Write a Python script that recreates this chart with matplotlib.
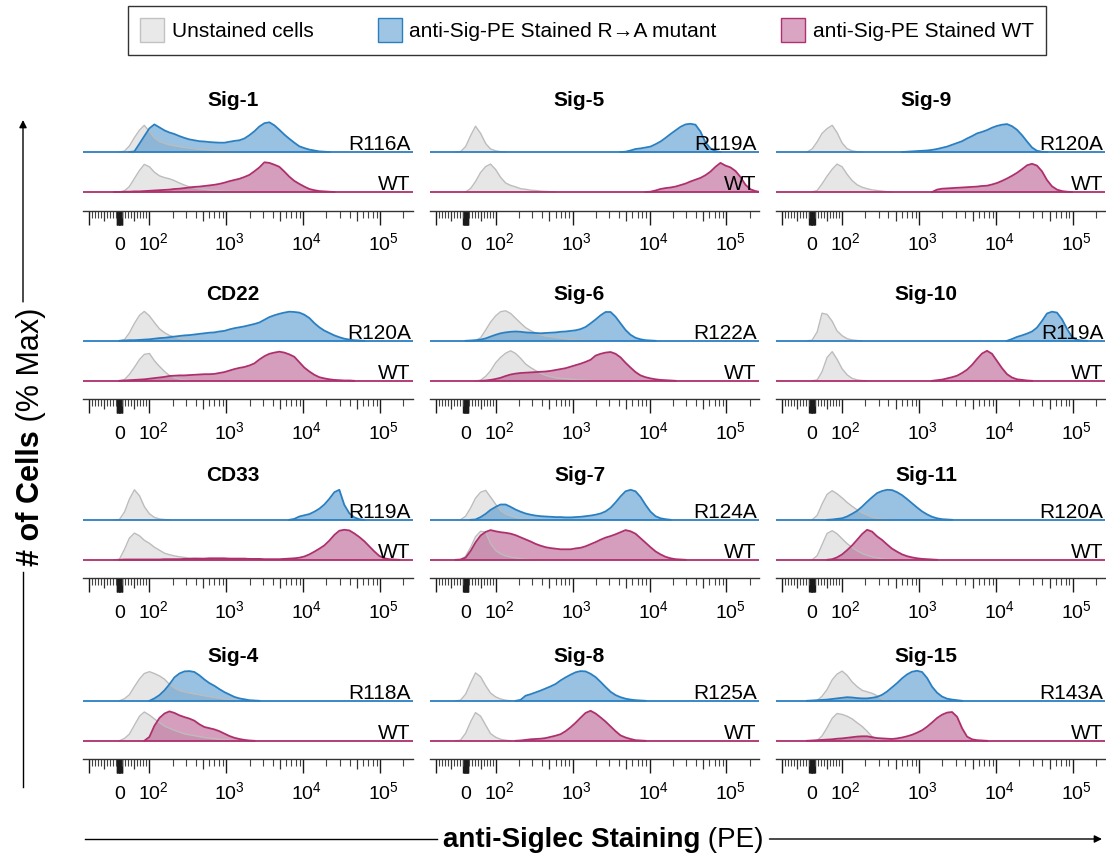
import matplotlib
matplotlib.use('Agg')
import matplotlib.pyplot as plt
from matplotlib.patches import Patch, FancyArrowPatch
from matplotlib.lines import Line2D
from matplotlib.ticker import NullLocator
from matplotlib.transforms import blended_transform_factory, ScaledTranslation

plt.rcParams['font.family'] = ['Liberation Sans', 'DejaVu Sans']
plt.rcParams['mathtext.fontset'] = 'custom'
plt.rcParams['mathtext.rm'] = 'Liberation Sans'
plt.rcParams['mathtext.it'] = 'Liberation Sans:italic'
plt.rcParams['mathtext.bf'] = 'Liberation Sans:bold'

# ---------------- data ----------------
# histogram channels (PE fluorescence values, biexponential display)
channel_values = [-67, -50, -33, -17, 0, 17, 33, 50, 67, 83, 100, 116, 135, 157, 182, 211,
                  245, 285, 331, 384, 446, 518, 602, 699, 811, 942, 1094, 1271, 1476, 1714,
                  1991, 2312, 2685, 3119, 3620, 4200, 4880, 5670, 6580, 7640, 8870, 10300,
                  11970, 13900, 16140, 18750, 21770, 25290, 29370, 34040, 39540, 45920, 53330,
                  61940, 71930, 83540, 97010, 112660, 130860, 151990, 176500, 205000, 238100,
                  262144]

panel_names = ['Sig-1', 'Sig-5', 'Sig-9', 'CD22', 'Sig-6', 'Sig-10',
               'CD33', 'Sig-7', 'Sig-11', 'Sig-4', 'Sig-8', 'Sig-15']
mutant_labels = ['R116A', 'R119A', 'R120A', 'R120A', 'R122A', 'R119A',
                 'R119A', 'R124A', 'R120A', 'R118A', 'R125A', 'R143A']
wt_label = 'WT'

major_ticks = [-100, -9, -7, -5, -3, -1, 0, 1, 3, 5, 7, 9, 100, 1000, 10000, 100000]
major_labels = ['', '', '', '', '', '', '0', '', '', '', '', '',
                r'$10^2$', r'$10^3$', r'$10^4$', r'$10^5$']
mid_ticks = [-50, 50, 500, 5000, 50000]
minor_ticks = [-90, -80, -70, -60, -40, -30, -20, -10,
               10, 20, 30, 40, 60, 70, 80, 90,
               200, 300, 400, 600, 700, 800, 900,
               2000, 3000, 4000, 6000, 7000, 8000, 9000,
               20000, 30000, 40000, 60000, 70000, 80000, 90000, 200000]

legend_labels = ['Unstained cells', 'anti-Sig-PE Stained R\u2192A mutant', 'anti-Sig-PE Stained WT']
x_label_bold = 'anti-Siglec Staining'
x_label_rest = ' (PE)'
y_label_bold = '# of Cells'
y_label_rest = ' (% Max)'

# each histogram: (first channel value, % of max on consecutive channels)
sig1_mut_unst = (0, [0, 3, 20, 48, 73, 89, 68, 47, 35, 29, 24, 21, 18, 15, 13, 11, 9, 8, 7, 6, 5, 4, 3, 2, 1, 0])
sig1_mut = (33, [0, 2, 28, 53, 79, 92, 82, 72, 65, 60, 53, 47, 42, 39, 36, 35, 33, 32, 31, 31, 34, 37, 39, 45, 56,
                 69, 85, 96, 99, 89, 74, 58, 44, 31, 19, 13, 8, 5, 2, 1, 0])
sig1_wt_unst = (0, [0, 4, 18, 45, 72, 92, 84, 66, 54, 48, 44, 38, 30, 23, 17, 14, 11, 9, 7, 6, 5, 4, 3, 2, 2, 1, 0])
sig1_wt = (-17, [0, 0, 1, 1, 2, 2, 3, 4, 5, 6, 7, 8, 10, 11, 13, 15, 17, 18, 20, 22, 24, 27, 31, 36, 40, 44, 50,
                 57, 69, 82, 99, 97, 91, 84, 68, 51, 37, 27, 18, 10, 6, 3, 2, 1, 0])

sig5_mut_unst = (-33, [0, 1, 18, 55, 86, 62, 28, 10, 4, 1, 0])
sig5_mut = (4200, [0, 1, 5, 10, 12, 15, 18, 26, 35, 47, 60, 72, 84, 92, 94, 91, 68, 32, 12, 3, 0])
sig5_wt_unst = (0, [0, 12, 35, 65, 85, 93, 75, 49, 30, 22, 17, 11, 9, 6, 5, 3, 2, 1, 0])
sig5_wt = (8870, [0, 1, 5, 10, 13, 15, 18, 23, 28, 35, 41, 47, 56, 68, 84, 97, 88, 82, 70, 50, 24, 9, 3, 1])

sig9_mut_unst = (-17, [0, 10, 34, 62, 78, 89, 65, 30, 11, 4, 1, 0])
sig9_mut = (602, [0, 1, 2, 3, 4, 5, 7, 10, 14, 18, 24, 30, 36, 45, 53, 62, 67, 73, 81, 87, 91, 93, 86, 74, 56,
                  35, 15, 4, 1, 0])
sig9_wt_unst = (0, [0, 5, 27, 53, 76, 93, 84, 59, 38, 24, 16, 11, 7, 5, 3, 1, 0])
sig9_wt = (1476, [0, 8, 11, 12, 13, 14, 15, 16, 17, 18, 20, 21, 25, 30, 37, 45, 54, 64, 76, 89, 94, 88, 69, 40,
                  19, 8, 3, 1, 0])

cd22_mut_unst = (0, [0, 4, 26, 58, 85, 98, 83, 61, 40, 27, 18, 13, 8, 5, 3, 2, 1, 0])
cd22_mut = (0, [0, 1, 2, 2, 3, 4, 5, 7, 9, 10, 12, 14, 16, 18, 19, 21, 23, 25, 27, 28, 31, 33, 38, 42, 45,
                48, 52, 56, 61, 70, 79, 85, 90, 94, 97, 96, 94, 87, 76, 59, 45, 34, 26, 18, 12, 7, 4, 2, 1, 0])
cd22_wt_unst = (0, [0, 4, 21, 45, 71, 88, 91, 67, 48, 31, 18, 10, 6, 3, 1, 0])
cd22_wt = (0, [0, 1, 2, 3, 4, 5, 7, 9, 11, 13, 16, 17, 18, 18, 19, 20, 21, 22, 22, 23, 26, 29, 34, 39, 43,
               46, 51, 58, 71, 82, 90, 94, 97, 94, 88, 80, 62, 44, 31, 20, 12, 8, 5, 3, 2, 1, 1, 0])

sig6_mut_unst = (17, [0, 1, 10, 36, 62, 83, 97, 100, 91, 75, 59, 44, 34, 26, 20, 16, 14, 11, 9, 7, 5, 4, 3, 2,
                      1, 1, 0])
sig6_mut = (0, [0, 1, 2, 4, 8, 14, 20, 25, 28, 30, 31, 30, 28, 27, 26, 25, 26, 27, 28, 30, 31, 33, 35, 39, 46,
                58, 71, 85, 96, 96, 80, 58, 36, 20, 10, 5, 2, 1, 0])
sig6_wt_unst = (33, [0, 2, 15, 33, 60, 78, 92, 100, 91, 75, 56, 44, 34, 25, 18, 14, 10, 8, 7, 5, 4, 3, 2, 1, 0])
sig6_wt = (50, [0, 1, 3, 6, 10, 16, 21, 24, 26, 27, 28, 29, 30, 31, 33, 36, 39, 42, 47, 52, 57, 63, 70, 84, 90,
                94, 96, 90, 78, 60, 44, 29, 18, 12, 8, 5, 3, 2, 1, 0])

sig10_mut_unst = (-17, [0, 2, 30, 92, 88, 65, 33, 17, 7, 3, 1, 0])
sig10_mut = (13900, [0, 6, 13, 18, 24, 31, 44, 66, 91, 97, 94, 72, 40, 13, 3, 1, 0])
sig10_wt_unst = (0, [0, 3, 30, 78, 97, 72, 40, 20, 8, 3, 1, 0])
sig10_wt = (1476, [0, 2, 4, 8, 12, 17, 26, 37, 53, 73, 91, 100, 90, 66, 42, 22, 11, 5, 3, 1, 0])

cd33_mut_unst = (-17, [0, 1, 26, 68, 100, 80, 44, 20, 8, 3, 1, 0])
cd33_mut = (6580, [0, 3, 11, 15, 19, 27, 37, 51, 70, 92, 100, 50, 22, 8, 2, 0])
cd33_wt_unst = (-17, [0, 2, 35, 72, 89, 80, 65, 55, 42, 32, 22, 17, 13, 10, 8, 6, 5, 4, 3, 3, 2, 2, 1, 1, 1, 0])
cd33_wt = (0, [0, 1, 1, 1, 1, 1, 1, 1, 1, 2, 2, 2, 2, 3, 3, 4, 4, 4, 5, 5, 5, 5, 4, 4, 4, 4, 3, 3, 3, 2,
               2, 2, 2, 3, 4, 5, 7, 11, 18, 27, 37, 48, 64, 83, 97, 100, 98, 88, 76, 62, 45, 28, 13, 5, 2, 1, 0])

sig7_mut_unst = (-17, [0, 12, 40, 72, 92, 98, 76, 52, 31, 19, 13, 8, 5, 3, 2, 1, 0])
sig7_mut = (17, [0, 1, 9, 20, 33, 43, 51, 51, 43, 34, 27, 21, 17, 14, 12, 11, 10, 9, 9, 8, 8, 9, 10, 12, 14,
                 17, 21, 28, 40, 58, 78, 95, 100, 95, 76, 50, 27, 12, 5, 2, 0])
sig7_wt_unst = (-17, [0, 12, 42, 77, 95, 92, 54, 31, 20, 13, 9, 6, 4, 2, 1, 0])
sig7_wt = (-33, [0, 1, 7, 30, 58, 81, 93, 99, 95, 92, 90, 87, 82, 75, 68, 61, 53, 47, 42, 39, 37, 35, 35, 35,
                 38, 40, 45, 52, 59, 67, 74, 79, 85, 92, 99, 95, 87, 72, 57, 42, 28, 18, 10, 5, 2, 1, 0])

sig11_mut_unst = (0, [0, 15, 52, 85, 97, 87, 73, 58, 45, 33, 23, 16, 9, 5, 3, 1, 0])
sig11_mut = (50, [0, 1, 3, 5, 11, 20, 30, 44, 60, 75, 89, 96, 100, 99, 92, 82, 69, 55, 41, 28, 18, 10, 5, 2,
                  1, 0])
sig11_wt_unst = (0, [0, 14, 50, 88, 97, 87, 70, 54, 41, 30, 21, 15, 10, 6, 4, 2, 1, 0])
sig11_wt = (50, [0, 2, 8, 18, 32, 48, 67, 86, 100, 94, 78, 66, 51, 37, 27, 18, 12, 8, 5, 3, 2, 1, 0])

sig4_mut_unst = (0, [0, 7, 20, 47, 73, 91, 97, 91, 83, 72, 55, 43, 34, 30, 26, 23, 20, 17, 14, 11, 9, 6, 4, 3,
                     2, 1, 0])
sig4_mut = (100, [0, 8, 19, 35, 55, 78, 91, 98, 99, 96, 85, 71, 59, 50, 39, 29, 21, 13, 8, 5, 2, 1, 0])
sig4_wt_unst = (0, [0, 8, 22, 52, 82, 96, 86, 73, 61, 49, 42, 35, 29, 23, 20, 17, 14, 11, 9, 7, 5, 4, 2, 1, 0])
sig4_wt = (83, [0, 13, 50, 76, 91, 98, 93, 85, 79, 74, 67, 55, 46, 42, 38, 32, 24, 16, 10, 6, 3, 1, 0])

sig8_mut_unst = (-33, [0, 2, 22, 60, 93, 80, 50, 26, 13, 6, 2, 0])
sig8_mut = (182, [0, 3, 17, 22, 28, 34, 41, 48, 56, 68, 78, 87, 95, 99, 98, 90, 79, 63, 46, 30, 19, 12, 7, 4,
                  2, 1, 0])
sig8_wt_unst = (-33, [0, 2, 25, 64, 94, 82, 52, 24, 12, 5, 2, 0])
sig8_wt = (182, [0, 1, 3, 5, 6, 7, 9, 13, 17, 22, 32, 45, 60, 77, 93, 100, 91, 78, 64, 48, 32, 18, 11, 6, 2,
                 1, 0])

sig15_mut_unst = (0, [0, 1, 15, 38, 70, 89, 99, 85, 63, 47, 35, 30, 25, 17, 6, 1, 0])
sig15_mut = (-17, [0, 1, 2, 3, 4, 6, 8, 10, 12, 11, 9, 8, 8, 10, 13, 20, 31, 45, 59, 75, 88, 97, 100, 96, 76,
                   47, 27, 14, 7, 4, 2, 0])
sig15_wt_unst = (0, [0, 1, 16, 44, 75, 91, 88, 82, 73, 60, 48, 32, 14, 4, 1, 0])
sig15_wt = (-17, [0, 1, 2, 3, 4, 5, 7, 8, 10, 12, 14, 15, 15, 12, 9, 8, 7, 6, 8, 11, 15, 20, 27, 35, 47, 61,
                  76, 87, 94, 96, 80, 42, 14, 5, 2, 1, 0])

panel_curves = [
    (sig1_mut_unst, sig1_mut, sig1_wt_unst, sig1_wt),
    (sig5_mut_unst, sig5_mut, sig5_wt_unst, sig5_wt),
    (sig9_mut_unst, sig9_mut, sig9_wt_unst, sig9_wt),
    (cd22_mut_unst, cd22_mut, cd22_wt_unst, cd22_wt),
    (sig6_mut_unst, sig6_mut, sig6_wt_unst, sig6_wt),
    (sig10_mut_unst, sig10_mut, sig10_wt_unst, sig10_wt),
    (cd33_mut_unst, cd33_mut, cd33_wt_unst, cd33_wt),
    (sig7_mut_unst, sig7_mut, sig7_wt_unst, sig7_wt),
    (sig11_mut_unst, sig11_mut, sig11_wt_unst, sig11_wt),
    (sig4_mut_unst, sig4_mut, sig4_wt_unst, sig4_wt),
    (sig8_mut_unst, sig8_mut, sig8_wt_unst, sig8_wt),
    (sig15_mut_unst, sig15_mut, sig15_wt_unst, sig15_wt),
]


def expand(curve):
    start, heights = curve
    i = channel_values.index(start)
    return channel_values[i:i + len(heights)], heights


# ---------------- style / layout ----------------
GRAY_FILL = '#e6e6e6'
GRAY_EDGE = '#bcbcbc'
BLUE_FILL = '#3a89c9'
BLUE_EDGE = '#2a7fc1'
MAG_FILL = '#b0457f'
MAG_EDGE = '#ad2f6c'
FILL_ALPHA = 0.52

W, H = 1106, 856
fig = plt.figure(figsize=(W / 100, H / 100), dpi=100)


def fx(px):
    return px / W


def fy(py):
    return 1 - py / H


col_left = [83.3, 429.5, 776.0]
panel_w = 329.2
row_axis_y = [210.5, 399.3, 578.3, 759.3]
title_y = [100, 294, 475, 656]
px_per_unit = 0.3
wt_above_axis = 18.5
row_gap = 40.0
top_above_wt = 75.0
y_bottom = -wt_above_axis / px_per_unit
y_top = top_above_wt / px_per_unit
mut_offset = row_gap / px_per_unit
axes_h = wt_above_axis + top_above_wt
XMIN, XMAX = -120, 262144
LINTHRESH, LINSCALE = 100, 0.351


def setup_x(a):
    a.set_xscale('symlog', linthresh=LINTHRESH, linscale=LINSCALE)
    a.set_xlim(XMIN, XMAX)
    a.set_ylim(y_bottom, y_top)
    a.set_yticks([])
    for s in ('top', 'left', 'right'):
        a.spines[s].set_visible(False)
    a.patch.set_alpha(0)


label_shift = ScaledTranslation(3.5 / 100, 0, fig.dpi_scale_trans)

for k, name in enumerate(panel_names):
    r, c = divmod(k, 3)
    L = col_left[c]
    rect = [fx(L), fy(row_axis_y[r]), panel_w / W, axes_h / H]

    # medium tick marks (own axis layer)
    axm = fig.add_axes(rect)
    setup_x(axm)
    axm.spines['bottom'].set_visible(False)
    axm.set_xticks(mid_ticks, [''] * len(mid_ticks))
    axm.xaxis.set_minor_locator(NullLocator())
    axm.tick_params(axis='x', which='major', length=7.3, width=0.9, color='#333333')

    ax = fig.add_axes(rect)
    setup_x(ax)
    ax.spines['bottom'].set_color('#333333')
    ax.spines['bottom'].set_linewidth(1.0)
    ax.set_xticks(major_ticks, major_labels)
    ax.set_xticks(minor_ticks, minor=True)
    ax.tick_params(axis='x', which='major', length=10, width=1.0, color='#1a1a1a',
                   pad=18.5, labelsize=14)
    ax.tick_params(axis='x', which='minor', length=4.9, width=0.8, color='#444444')
    for lbl in ax.get_xticklabels():
        lbl.set_verticalalignment('baseline')
        if lbl.get_text().startswith('$10'):
            lbl.set_transform(lbl.get_transform() + label_shift)

    mu, m, wu, w = panel_curves[k]
    for unst, stained, base, fcol, ecol in [(mu, m, mut_offset, BLUE_FILL, BLUE_EDGE),
                                            (wu, w, 0.0, MAG_FILL, MAG_EDGE)]:
        xu, hu = expand(unst)
        xs, hs = expand(stained)
        yu = [base + h for h in hu]
        ys = [base + h for h in hs]
        ax.fill_between(xu, base, yu, color=GRAY_FILL, lw=0, zorder=1)
        ax.fill_between(xs, base, ys, color=fcol, alpha=FILL_ALPHA, lw=0, zorder=2)
        ax.plot(xu, yu, color=GRAY_EDGE, lw=1.0, zorder=3)
        ax.axhline(base, color=ecol, lw=1.3, zorder=4)
        ax.plot(xs, ys, color=ecol, lw=1.3, zorder=4)

    tr = blended_transform_factory(ax.transAxes, ax.transData)
    xr = 1 - 1.8 / panel_w
    ax.text(xr, mut_offset + 5, mutant_labels[k], transform=tr, ha='right', va='baseline',
            fontsize=15, zorder=6)
    ax.text(xr, 5, wt_label, transform=tr, ha='right', va='baseline', fontsize=15, zorder=6)

    fig.text(fx(L + 150), fy(title_y[r]), name, ha='center', va='center',
             fontsize=15, fontweight='bold')

# ---------------- legend ----------------
handles = [Patch(facecolor='#e9e9e9', edgecolor='#c2c2c2', label=legend_labels[0]),
           Patch(facecolor='#9fc5e5', edgecolor='#2a7fc1', label=legend_labels[1]),
           Patch(facecolor='#d9a5c2', edgecolor='#b0306f', label=legend_labels[2])]
leg = fig.legend(handles=handles, loc='upper center', bbox_to_anchor=(fx(587), fy(5.5)), ncol=3,
                 frameon=True, fancybox=False, edgecolor='black', fontsize=15,
                 handlelength=1.15, handleheight=1.35, handletextpad=0.35, columnspacing=3.1,
                 borderpad=0.62, borderaxespad=0)
leg.get_frame().set_linewidth(1.0)

# ---------------- axis titles with arrows ----------------
renderer = fig.canvas.get_renderer()
XFS = 20
YFS = 22

# x label
xl_center, xl_base = 603, 847
t1 = fig.text(0, fy(xl_base), x_label_bold, fontsize=XFS, fontweight='bold', va='baseline', ha='left')
t2 = fig.text(0, fy(xl_base), x_label_rest, fontsize=XFS, va='baseline', ha='left')
w1 = t1.get_window_extent(renderer).width
w2 = t2.get_window_extent(renderer).width
x0 = xl_center - (w1 + w2) / 2
t1.set_x(fx(x0))
t2.set_x(fx(x0 + w1))
line_y = 839
fig.add_artist(Line2D([fx(85), fx(x0 - 6)], [fy(line_y), fy(line_y)], color='black', lw=1.0))
fig.add_artist(FancyArrowPatch((fx(x0 + w1 + w2 + 6), fy(line_y)), (fx(1102), fy(line_y)),
                               transform=fig.transFigure, arrowstyle='-|>', mutation_scale=11,
                               color='black', lw=1.0, shrinkA=0, shrinkB=0))

# y label
yl_center, yl_x = 437, 31
s1 = fig.text(fx(yl_x), 0, y_label_bold, fontsize=YFS, fontweight='bold', rotation=90,
              ha='center', va='top')
s2 = fig.text(fx(yl_x), 0, y_label_rest, fontsize=YFS, rotation=90, ha='center', va='bottom')
h1 = s1.get_window_extent(renderer).height
h2 = s2.get_window_extent(renderer).height
split = yl_center - (h1 - h2) / 2  # pixel y from top where bold part ends
s1.set_y(fy(split))
s2.set_y(fy(split))
top_px = split - h2
bot_px = split + h1
line_x = 23
fig.add_artist(Line2D([fx(line_x), fx(line_x)], [fy(787), fy(bot_px + 6)], color='black', lw=1.0))
fig.add_artist(FancyArrowPatch((fx(line_x), fy(top_px - 6)), (fx(line_x), fy(120)),
                               transform=fig.transFigure, arrowstyle='-|>', mutation_scale=11,
                               color='black', lw=1.0, shrinkA=0, shrinkB=0))

fig.savefig('out.png', dpi=100)
